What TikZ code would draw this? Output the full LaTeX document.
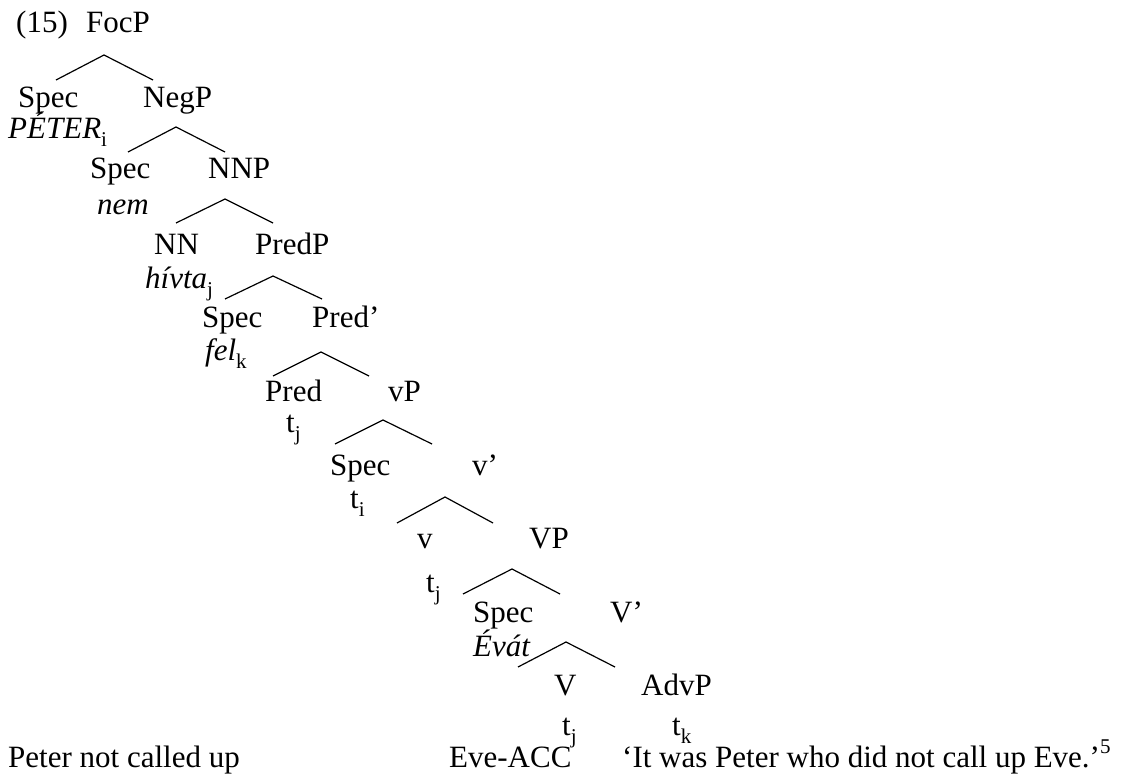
\documentclass[tikz,border=0pt]{standalone}
\usepackage{fontspec}
\setmainfont{Liberation Serif}
\newcommand\lsub[1]{\raisebox{-0.26em}{\fontsize{21}{21}\selectfont #1}}
\newcommand\lsup[1]{\raisebox{0.42em}{\fontsize{21}{21}\selectfont #1}}
\tikzset{
  lab/.style={anchor=base west, inner sep=0pt, font=\fontsize{31}{37}\selectfont},
  br/.style={line width=1.2pt, line join=miter}
}
\begin{document}
\begin{tikzpicture}[x=1pt,y=-1pt]
\useasboundingbox (0,0) rectangle (1129,776);
% labels
\node[lab] (ex) at (16,33) {(15)};
\node[lab] (FocP) at (86,33) {FocP};
\node[lab] (specA) at (18,107) {Spec};
\node[lab] (NegP) at (143,107) {NegP};
\node[lab] (peter) at (8,138) {\textit{PÉTER}\lsub{i}};
\node[lab] (specB) at (90,178) {Spec};
\node[lab] (NNP) at (208,178) {NNP};
\node[lab] (nem) at (97,214) {\textit{nem}};
\node[lab] (NN) at (154,254) {NN};
\node[lab] (PredP) at (255,254) {PredP};
\node[lab] (hivta) at (145,288) {\textit{hívta}\lsub{j}};
\node[lab] (specC) at (202,327) {Spec};
\node[lab] (Predbar) at (312,327) {Pred’};
\node[lab] (fel) at (205,360) {\textit{fel}\lsub{k}};
\node[lab] (Pred) at (265,401) {Pred};
\node[lab] (vP) at (388,401) {vP};
\node[lab] (tj1) at (286,432) {t\lsub{j}};
\node[lab] (specD) at (330,475) {Spec};
\node[lab] (vbar) at (472,475) {v’};
\node[lab] (ti) at (350,508) {t\lsub{i}};
\node[lab] (v) at (417,548) {v};
\node[lab] (VP) at (529,548) {VP};
\node[lab] (tj2) at (426,592) {t\lsub{j}};
\node[lab] (specE) at (473,622) {Spec};
\node[lab] (Vbar) at (610,622) {V’};
\node[lab] (evat) at (473,656) {\textit{Évát}};
\node[lab] (V) at (554,695) {V};
\node[lab] (AdvP) at (641,695) {AdvP};
\node[lab] (tj3) at (562,735) {t\lsub{j}};
\node[lab] (tk) at (672,735) {t\lsub{k}};
\node[lab] (gl1) at (8,767) {Peter not called up};
\node[lab] (gl2) at (449,767) {Eve-ACC};
\node[lab] (tr) at (622,767) {‘It was Peter who did not call up Eve.’\lsup{5}};
% branch points
\coordinate (a1) at (104,55);  \coordinate (l1) at (56,80);   \coordinate (r1) at (153,80);
\coordinate (a2) at (176,127); \coordinate (l2) at (128,152); \coordinate (r2) at (225,152);
\coordinate (a3) at (225,199); \coordinate (l3) at (176,223); \coordinate (r3) at (273,223);
\coordinate (a4) at (273,276); \coordinate (l4) at (225,299); \coordinate (r4) at (322,299);
\coordinate (a5) at (321,352); \coordinate (l5) at (273,376); \coordinate (r5) at (369,376);
\coordinate (a6) at (383,420); \coordinate (l6) at (335,444); \coordinate (r6) at (432,444);
\coordinate (a7) at (445,497); \coordinate (l7) at (397,523); \coordinate (r7) at (493,523);
\coordinate (a8) at (512,569); \coordinate (l8) at (463,594); \coordinate (r8) at (560,594);
\coordinate (a9) at (566,642); \coordinate (l9) at (518,667); \coordinate (r9) at (615,667);
\foreach \i in {1,...,9} { \draw[br] (l\i) -- (a\i) -- (r\i); }
\end{tikzpicture}
\end{document}
